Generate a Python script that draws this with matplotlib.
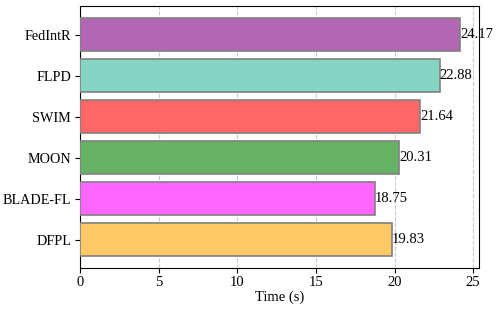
import matplotlib
matplotlib.use("Agg")
import matplotlib.pyplot as plt

methods = ["DFPL", "BLADE-FL", "MOON", "SWIM", "FLPD", "FedIntR"]
times = [19.83, 18.75, 20.31, 21.64, 22.88, 24.17]
colors = ["#ffc966", "#ff66ff", "#66b366", "#ff6666", "#86d4c3", "#b366b3"]

plt.rcParams['font.family'] = ['Liberation Serif', 'DejaVu Serif']
plt.rcParams['font.size'] = 10

fig, ax = plt.subplots(figsize=(4.98, 3.10), dpi=100)
y = range(len(methods))
ax.barh(y, times, height=0.8, color=colors, edgecolor="gray", linewidth=1.2, zorder=3)
for yi, t in zip(y, times):
    ax.text(t, yi, f"{t:.2f}", va="center", ha="left", fontsize=10.5, zorder=4)
ax.set_yticks(list(y))
ax.set_yticklabels(methods)
ax.set_xlim(0, max(times) * 1.05)
ax.set_xlabel("Time (s)", fontsize=10.5, labelpad=1)
ax.grid(axis="x", linestyle="--", color="#bbbbbb", alpha=0.8, zorder=0)
ax.tick_params(axis="x", labelsize=10.5, pad=2)
ax.tick_params(axis="y", labelsize=10.2, pad=3)
fig.subplots_adjust(left=0.161, right=0.962, top=0.98, bottom=0.135)
fig.savefig("out.png", dpi=100)
